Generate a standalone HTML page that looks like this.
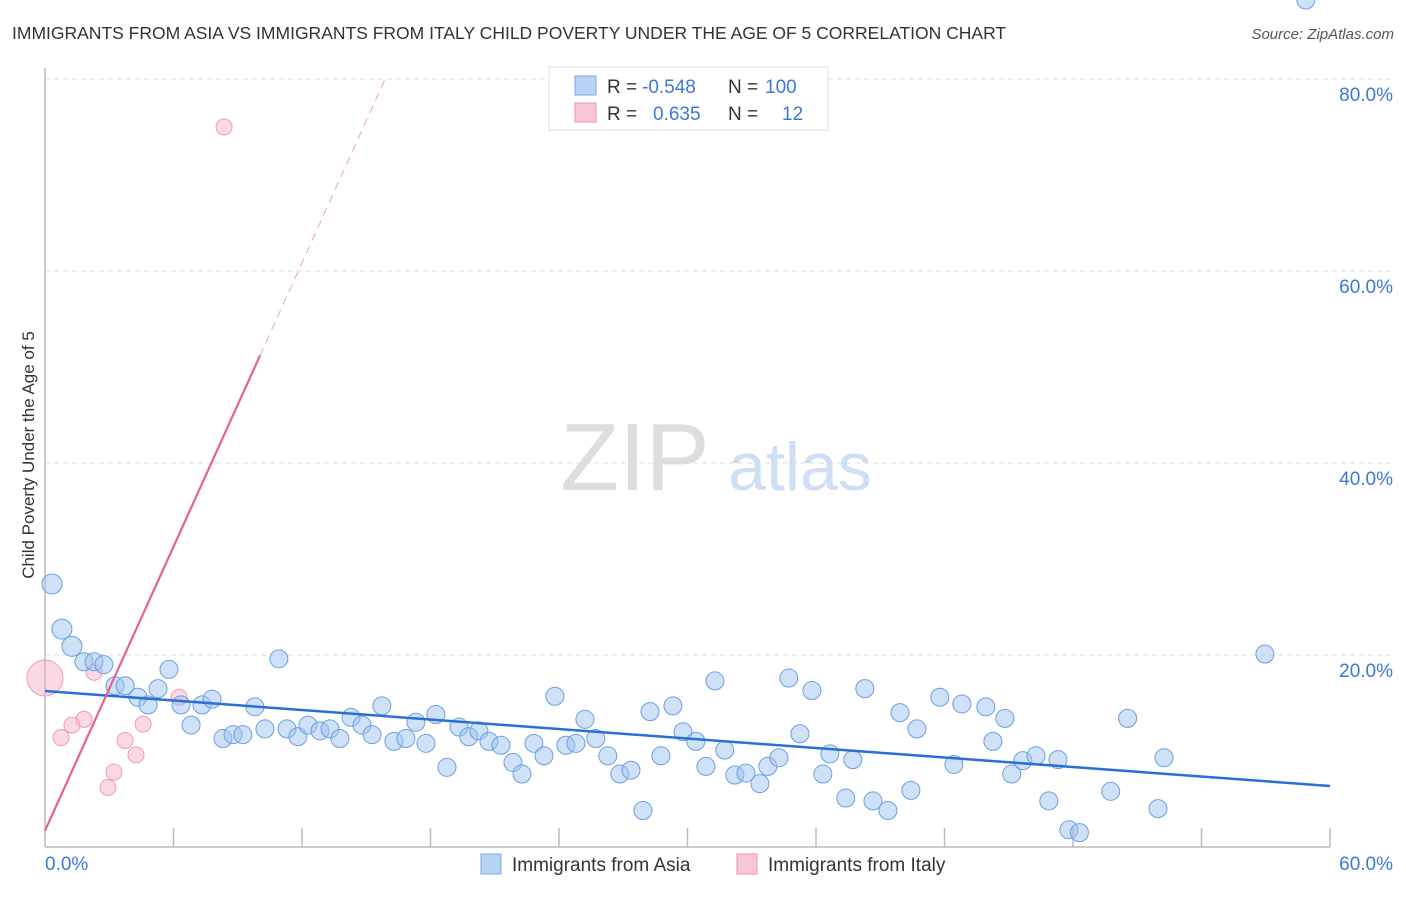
<!DOCTYPE html>
<html><head><meta charset="utf-8"><style>
body{margin:0;background:#fff;font-family:"Liberation Sans",sans-serif;}
svg text{font-family:"Liberation Sans",sans-serif;}
</style></head><body>
<svg width="1406" height="892" viewBox="0 0 1406 892" xmlns="http://www.w3.org/2000/svg">
<text x="12" y="39" font-size="17.5" fill="#333">IMMIGRANTS FROM ASIA VS IMMIGRANTS FROM ITALY CHILD POVERTY UNDER THE AGE OF 5 CORRELATION CHART</text>
<text x="1394" y="39" font-size="15" fill="#555" font-style="italic" text-anchor="end">Source: ZipAtlas.com</text>
<g>
<text x="635" y="490" font-size="96" fill="#ddd" font-family="Liberation Serif,serif" text-anchor="middle">ZIP</text>
<text x="800" y="490" font-size="68" fill="#cfdff3" text-anchor="middle">atlas</text>
</g>
<g id="grid"></g>
<g id="axes"></g>
<g id="marks"></g>
<text transform="translate(34,455) rotate(-90)" font-size="17" fill="#333" text-anchor="middle">Child Poverty Under the Age of 5</text>
<g>
<rect x="549" y="67" width="279" height="63" fill="#fff" stroke="#ddd"/>
<rect x="575" y="76" width="21" height="19" fill="#b8d3f4" stroke="#7aa8e6"/>
<rect x="575" y="103" width="21" height="19" fill="#f9c6d6" stroke="#ef93b0"/>
<text x="607" y="93" font-size="19" fill="#333">R = </text><text x="642" y="93" font-size="19" fill="#3b78d8">-0.548</text>
<text x="728" y="93" font-size="19" fill="#333">N = </text><text x="765" y="93" font-size="19" fill="#3b78d8">100</text>
<text x="607" y="120" font-size="19" fill="#333">R = </text><text x="653" y="120" font-size="19" fill="#3b78d8">0.635</text>
<text x="728" y="120" font-size="19" fill="#333">N = </text><text x="782" y="120" font-size="19" fill="#3b78d8">12</text>
</g>
<g>
<rect x="481" y="854" width="20" height="20" fill="#b8d3f4" stroke="#7aa8e6"/>
<text x="512" y="871" font-size="19" fill="#333">Immigrants from Asia</text>
<rect x="737" y="854" width="20" height="20" fill="#f9c6d6" stroke="#ef93b0"/>
<text x="768" y="871" font-size="19" fill="#333">Immigrants from Italy</text>
</g>
</svg>
<script>
const yTicks=[20,40,60,80];
const yTickLabels=["20.0%","40.0%","60.0%","80.0%"];
const xTicks=[0,6,12,18,24,30,36,42,48,54,60];
const xEndLabels=["0.0%","60.0%"];
const asiaX=[0.33,0.79,1.26,1.82,2.29,2.75,3.27,3.74,4.34,4.81,5.28,5.79,6.35,6.82,7.33,7.80,8.31,8.78,9.24,9.80,10.27,10.92,11.30,11.81,12.28,12.84,13.31,13.77,14.29,14.80,15.27,15.73,16.29,16.85,17.32,17.79,18.25,18.77,19.33,19.79,20.26,20.73,21.29,21.85,22.27,22.83,23.30,23.81,24.32,24.79,25.21,25.72,26.28,26.84,27.36,27.92,28.25,28.76,29.32,29.79,30.39,30.86,31.28,31.74,32.21,32.73,33.38,33.75,34.27,34.73,35.25,35.81,36.32,36.65,37.39,37.72,38.28,38.66,39.36,39.92,40.43,40.71,41.78,42.44,42.81,43.93,44.26,44.82,45.14,45.66,46.27,46.87,47.30,47.81,48.30,49.76,50.55,51.97,52.25,56.96,58.87];
const asiaY=[27.4,22.7,20.9,19.3,19.3,19.0,16.8,16.8,15.6,14.8,16.5,18.5,14.8,12.7,14.8,15.4,11.3,11.7,11.7,14.6,12.3,19.6,12.3,11.5,12.7,12.1,12.3,11.3,13.5,12.7,11.7,14.7,11.0,11.3,13.0,10.8,13.8,8.3,12.5,11.5,12.1,11.0,10.6,8.8,7.6,10.8,9.5,15.7,10.6,10.8,13.3,11.3,9.5,7.6,8.0,3.8,14.1,9.5,14.7,12.0,11.0,8.4,17.3,10.1,7.5,7.7,6.6,8.4,9.3,17.6,11.8,16.3,7.6,9.7,5.1,9.1,16.5,4.8,3.8,14.0,5.9,12.3,15.6,8.6,14.9,14.6,11.0,13.4,7.6,9.0,9.5,4.8,9.1,1.8,1.5,5.8,13.4,4.0,9.3,20.1];
const italyX=[0.0,0.75,1.26,1.82,2.29,2.94,3.22,3.74,4.25,4.58,6.26,8.36];
const italyY=[17.6,11.4,12.7,13.3,18.2,6.2,7.8,11.1,9.6,12.8,15.6,75.0];
const italyR=[18,8,8,8,8,8,8,8,8,8,8,8];
const asiaTrend=[16.25,-0.165];
const italyTrend=[1.7,4.93];
const italySolidEnd=10.04;

const X0=45,X1=1330,Y0=847,YTOP=79;
const sx=v=>X0+(X1-X0)*v/60;
const sy=v=>Y0-(Y0-YTOP)*v/80;
const NS="http://www.w3.org/2000/svg";
function mk(tag,attrs,parent){const e=document.createElementNS(NS,tag);for(const k in attrs)e.setAttribute(k,attrs[k]);document.getElementById(parent).appendChild(e);return e;}
yTicks.forEach((t,i)=>{
 const g=mk('line',{x1:X0,x2:1394,y1:sy(t),y2:sy(t),stroke:'#ddd','stroke-dasharray':'5,4'},'grid');
 
 
 const l=mk('text',{x:1393,y:sy(t)+22,'font-size':19,fill:'#3b78d8','text-anchor':'end'},'grid');
 l.textContent=yTickLabels[i];
 
 
});
const ya=mk('line',{x1:X0,x2:X0,y1:68,y2:Y0,stroke:'#bbb','stroke-width':1.5},'axes');


const xa=mk('line',{x1:X0,x2:X1,y1:Y0,y2:Y0,stroke:'#bbb','stroke-width':1.5},'axes');


xTicks.slice(1).forEach(t=>{
 const k=mk('line',{x1:sx(t),x2:sx(t),y1:828,y2:Y0,stroke:'#bbb','stroke-width':1.5},'axes');
 
 
});
const xl0=mk('text',{x:45,y:870,'font-size':19,fill:'#3b78d8'},'axes');xl0.textContent=xEndLabels[0];


const xl1=mk('text',{x:1393,y:870,'font-size':19,fill:'#3b78d8','text-anchor':'end'},'axes');xl1.textContent=xEndLabels[1];


italyX.forEach((x,i)=>{
 const c=mk('circle',{cx:sx(x),cy:sy(italyY[i]),r:italyR[i],fill:'rgba(246,170,195,0.45)',stroke:'#ef9ab5','stroke-width':1},'marks');
 
 
});
asiaX.forEach((x,i)=>{
 const c=mk('circle',{cx:sx(x),cy:sy(asiaY[i]),r:(i<3?10:9),fill:'rgba(160,196,240,0.5)',stroke:'#6a9fe2','stroke-width':1},'marks');
 
 
});
const at=mk('line',{x1:sx(0),y1:sy(asiaTrend[0]),x2:sx(60),y2:sy(asiaTrend[0]+asiaTrend[1]*60),stroke:'#2a6fd6','stroke-width':2.5},'marks');


const it=mk('line',{x1:sx(0),y1:sy(italyTrend[0]),x2:sx(italySolidEnd),y2:sy(italyTrend[0]+italyTrend[1]*italySolidEnd),stroke:'#e8608e','stroke-width':2.2},'marks');


const xEnd=(80-italyTrend[0])/italyTrend[1];
const id=mk('line',{x1:sx(italySolidEnd),y1:sy(italyTrend[0]+italyTrend[1]*italySolidEnd),x2:sx(xEnd),y2:sy(80),stroke:'#eaa0b8','stroke-width':1,'stroke-dasharray':'8,6'},'marks');


</script>
</body></html>
